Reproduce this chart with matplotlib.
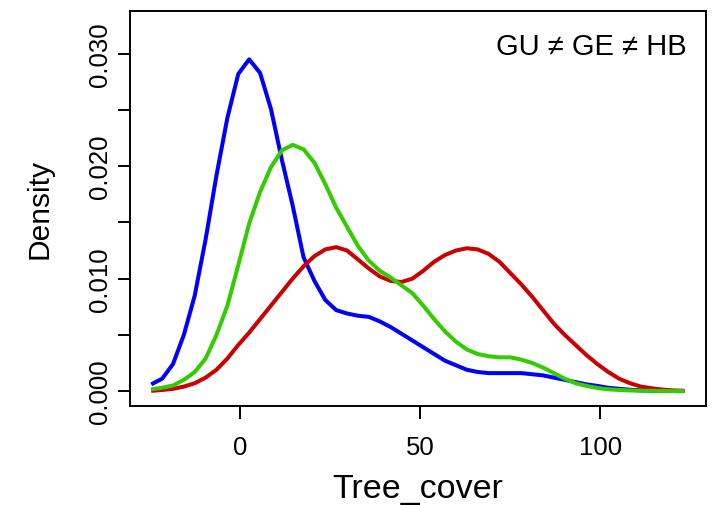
import numpy as np
import matplotlib
matplotlib.use('Agg')
import matplotlib.pyplot as plt

plt.rcParams['font.family'] = ['Liberation Sans', 'DejaVu Sans']

# density estimates on a common 50-point grid
x_from, x_to, n_pts = -24.8, 123.4, 50

gu = [0.0006, 0.0011, 0.0024, 0.0050, 0.0085, 0.0135, 0.0192, 0.0243, 0.0282, 0.0295,
      0.0283, 0.0251, 0.0206, 0.0165, 0.0119, 0.0098, 0.0081, 0.0072, 0.0069, 0.0067,
      0.0066, 0.0062, 0.0057, 0.0051, 0.0045, 0.0039, 0.0033, 0.0027, 0.0023, 0.0019,
      0.0017, 0.0016, 0.0016, 0.0016, 0.0016, 0.0015, 0.0014, 0.0012, 0.0010, 0.0008,
      0.0006, 0.00046, 0.0003, 0.0002, 0.00012, 0.00007, 0.00004, 0.00002, 0.00001, 0.0]

ge = [0.00016, 0.0003, 0.0005, 0.0010, 0.0017, 0.0029, 0.0050, 0.0076, 0.0112, 0.0149,
      0.0177, 0.0199, 0.0214, 0.0219, 0.0215, 0.0203, 0.0184, 0.0163, 0.0146, 0.0129,
      0.0116, 0.0107, 0.0101, 0.0094, 0.0087, 0.0076, 0.0064, 0.0053, 0.0044, 0.0037,
      0.0033, 0.0031, 0.0030, 0.0030, 0.0028, 0.0025, 0.0021, 0.0016, 0.0011, 0.0007,
      0.00046, 0.00028, 0.00016, 0.0001, 0.00006, 0.00003, 0.00002, 0.00001, 0.0, 0.0]

hb = [0.00002, 0.0001, 0.0002, 0.0004, 0.0007, 0.0012, 0.0019, 0.0029, 0.0041, 0.0052,
      0.0064, 0.0076, 0.0088, 0.0100, 0.0111, 0.0120, 0.0126, 0.0128, 0.0125, 0.0117,
      0.0109, 0.0102, 0.0098, 0.0097, 0.0100, 0.0107, 0.0115, 0.0121, 0.0125, 0.0127,
      0.0126, 0.0122, 0.0115, 0.0105, 0.0095, 0.0084, 0.0072, 0.0060, 0.0050, 0.0041,
      0.0032, 0.0024, 0.0017, 0.0011, 0.0007, 0.0004, 0.00025, 0.00013, 0.00006, 0.00003]

x_ticks = [0, 50, 100]
y_ticks = [0.0, 0.005, 0.010, 0.015, 0.020, 0.025, 0.030]
y_tick_labels = ['0.000', '', '0.010', '', '0.020', '', '0.030']

grid_x = np.linspace(x_from, x_to, n_pts)

fig = plt.figure(figsize=(7.15, 5.06), dpi=100)
ax = fig.add_axes([0.1818, 0.1962, 0.8056, 0.7801])

line_kw = dict(linewidth=2.9, solid_joinstyle='round', solid_capstyle='butt')
ax.plot(grid_x, gu, color='#0000FF', **line_kw)
ax.plot(grid_x, hb, color='#CC0000', **line_kw)
ax.plot(grid_x, ge, color='#33CC00', **line_kw)

ax.set_xlim(-30.7, 129.4)
ax.set_ylim(-0.0013, 0.0338)

ax.set_xticks(x_ticks)
ax.set_xticklabels([str(t) for t in x_ticks])
ax.set_yticks(y_ticks)
ax.set_yticklabels(y_tick_labels, rotation=90, va='center')

ax.tick_params(axis='both', length=9, width=1.4, labelsize=18.5)
ax.tick_params(axis='x', pad=12)
ax.tick_params(axis='y', pad=4)
for sp in ax.spines.values():
    sp.set_linewidth(1.4)

ax.set_xlabel('Tree_cover', fontsize=24.5, va='baseline')
ax.xaxis.set_label_coords(0.5, -0.231)
ax.set_ylabel('Density', fontsize=21.5, va='center')
ax.yaxis.set_label_coords(-0.157, 0.5)

ax.text(0.967, 0.891, 'GU \u2260 GE \u2260 HB', transform=ax.transAxes,
        ha='right', va='baseline', fontsize=21)

fig.savefig('out.png', dpi=100)
